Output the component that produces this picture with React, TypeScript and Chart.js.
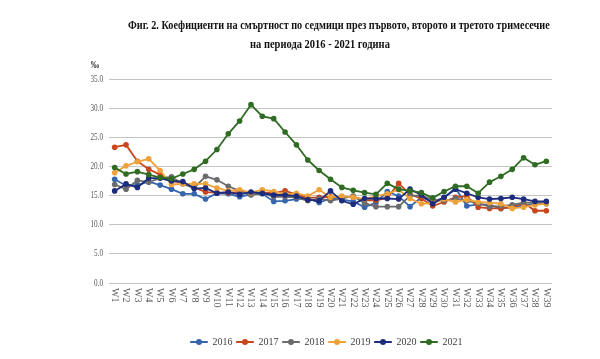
import React, { useEffect, useLayoutEffect, useRef } from "react";
import { Chart, registerables } from "chart.js";

Chart.register(...registerables);

const titleLine1 = "Фиг. 2. Коефициенти на смъртност по седмици през първото, второто и третото тримесечие";
const titleLine2 = "на периода 2016 - 2021 година";
const unitLabel = "‰";

const weeks = [
  "W1", "W2", "W3", "W4", "W5", "W6", "W7", "W8", "W9", "W10",
  "W11", "W12", "W13", "W14", "W15", "W16", "W17", "W18", "W19", "W20",
  "W21", "W22", "W23", "W24", "W25", "W26", "W27", "W28", "W29", "W30",
  "W31", "W32", "W33", "W34", "W35", "W36", "W37", "W38", "W39",
];

const years = ["2016", "2017", "2018", "2019", "2020", "2021"];

const v2016 = [
  17.8, 16.7, 16.8, 17.4, 16.8, 16.1, 15.3, 15.3, 14.4, 15.4, 15.3, 14.8, 15.2,
  15.3, 14.0, 14.1, 14.4, 14.5, 13.8, 14.5, 14.3, 14.0, 13.0, 13.8, 15.7, 14.9, 13.1, 14.7,
  14.0, 14.6, 16.3, 13.2, 13.5, 13.4, 12.8, 13.0, 13.3, 13.6, 13.6,
];
const v2017 = [
  23.3, 23.7, 20.9, 19.5, 18.6, 17.5, 17.2, 16.4, 15.6, 15.5, 15.5, 15.6, 15.4,
  15.5, 15.4, 15.8, 15.2, 14.6, 14.7, 14.8, 14.7, 14.8, 14.2, 14.2, 14.6, 17.1, 15.2, 14.5,
  13.2, 13.9, 14.7, 14.9, 13.0, 12.8, 12.8, 13.0, 13.8, 12.4, 12.4,
];
const v2018 = [
  16.9, 16.1, 17.6, 17.3, 18.0, 18.2, 17.0, 16.3, 18.3, 17.7, 16.6, 15.8, 15.1,
  15.5, 14.8, 14.8, 14.7, 14.1, 14.5, 14.1, 14.5, 14.9, 13.7, 13.1, 13.1, 13.1, 15.0, 15.0,
  14.3, 14.1, 14.5, 14.1, 13.7, 13.1, 13.2, 13.4, 13.8, 13.8, 13.8,
];
const v2019 = [
  18.9, 20.1, 20.8, 21.3, 19.3, 16.9, 17.0, 17.0, 17.0, 16.3, 15.8, 16.0, 15.5,
  16.0, 15.7, 15.2, 15.4, 14.9, 16.0, 14.7, 14.9, 14.7, 14.4, 14.9, 15.3, 16.0, 14.5, 13.6,
  13.7, 14.4, 13.9, 14.3, 13.9, 13.8, 13.6, 12.8, 13.0, 13.4, 13.6,
];
const v2020 = [
  15.8, 17.0, 16.4, 18.0, 18.0, 17.5, 17.4, 16.2, 16.3, 15.4, 15.6, 15.2, 15.6,
  15.4, 15.1, 15.1, 14.9, 14.3, 14.1, 15.8, 14.1, 13.5, 14.5, 14.5, 14.5, 14.4, 16.1, 15.1,
  13.6, 14.7, 16.1, 15.4, 14.7, 14.4, 14.5, 14.7, 14.4, 14.0, 14.0,
];
const v2021 = [
  19.8, 18.7, 19.1, 18.6, 18.1, 17.9, 18.7, 19.5, 20.9, 22.9, 25.6, 27.8, 30.6,
  28.6, 28.2, 25.9, 23.7, 21.1, 19.3, 17.8, 16.4, 15.9, 15.5, 15.2, 17.1, 16.1, 15.8, 15.5,
  14.6, 15.7, 16.6, 16.6, 15.4, 17.3, 18.3, 19.5, 21.5, 20.3, 20.9,
];

const seriesValues = [v2016, v2017, v2018, v2019, v2020, v2021];
const seriesColors = ["#3565ad", "#c9461d", "#6b6b6b", "#f0a23a", "#1c2b7c", "#2f6b23"];

const yMin = 0;
const yMax = 35;
const yStep = 5;

const textPlugin = {
  id: "customText",
  afterDraw(chart: any) {
    const ctx = chart.ctx;
    const xs = chart.scales.x;
    const ys = chart.scales.y;
    const area = chart.chartArea;
    ctx.save();
    ctx.fillStyle = "#595959";
    ctx.font = '10px "Liberation Serif", serif';
    ctx.textBaseline = "middle";
    ctx.textAlign = "left";
    xs.ticks.forEach((t: any, i: number) => {
      const px = xs.getPixelForTick(i);
      ctx.save();
      ctx.translate(px, area.bottom + 5);
      ctx.rotate(Math.PI / 2);
      ctx.fillText(String(xs.getLabelForValue(t.value)), 0, 0);
      ctx.restore();
    });
    ctx.textAlign = "right";
    ys.ticks.forEach((t: any) => {
      const py = ys.getPixelForValue(t.value);
      ctx.save();
      ctx.translate(103, py);
      ctx.scale(0.72, 1);
      ctx.fillText(Number(t.value).toFixed(1), 0, 0);
      ctx.restore();
    });
    ctx.textAlign = "center";
    ctx.fillStyle = "#404040";
    ctx.font = 'bold 10px "Liberation Serif", serif';
    ctx.save();
    ctx.translate(95, 65);
    ctx.scale(0.85, 1);
    ctx.fillText(unitLabel, 0, 0);
    ctx.restore();
    const legend = chart.legend;
    if (legend && legend.legendHitBoxes) {
      const bw = legend.options.labels.boxWidth;
      legend.legendHitBoxes.forEach((hb: any, i: number) => {
        const item = legend.legendItems[i];
        ctx.beginPath();
        ctx.fillStyle = item.strokeStyle;
        ctx.arc(hb.left + bw / 2, hb.top + hb.height / 2, 3, 0, Math.PI * 2);
        ctx.fill();
      });
    }
    ctx.restore();
  },
};

export default function App() {
  const canvasRef = useRef<HTMLCanvasElement | null>(null);
  const t1Ref = useRef<HTMLSpanElement | null>(null);
  const t2Ref = useRef<HTMLSpanElement | null>(null);

  useLayoutEffect(() => {
    const fit = (el: HTMLSpanElement | null, target: number) => {
      if (!el) return;
      const w = el.offsetWidth;
      if (w > 0) el.style.transform = `scaleX(${target / w})`;
    };
    fit(t1Ref.current, 422);
    fit(t2Ref.current, 140);
  }, []);

  useEffect(() => {
    if (!canvasRef.current) return;
    const datasets = years.map((y, i) => ({
      label: y,
      data: seriesValues[i],
      borderColor: seriesColors[i],
      backgroundColor: seriesColors[i],
      pointBackgroundColor: seriesColors[i],
      pointBorderColor: seriesColors[i],
      borderWidth: 1.8,
      pointRadius: 2.8,
      pointBorderWidth: 0,
      tension: 0,
      order: years.length - 1 - i,
    }));
    const chart = new Chart(canvasRef.current, {
      type: "line",
      data: { labels: weeks, datasets },
      options: {
        animation: false,
        responsive: false,
        layout: { padding: { top: 79, left: 101, right: 48, bottom: 2 } },
        plugins: {
          title: { display: false },
          tooltip: { enabled: false },
          legend: {
            display: true,
            position: "bottom",
            labels: {
              boxWidth: 17,
              boxHeight: 1,
              padding: 4,
              color: "#404040",
              font: { family: '"Liberation Serif", serif', size: 10 },
              sort: (a: any, b: any) => a.datasetIndex - b.datasetIndex,
              generateLabels: (c: any) =>
                (Chart.defaults.plugins.legend.labels as any)
                  .generateLabels(c)
                  .map((l: any) => ({ ...l, lineWidth: 1 })),
            },
          },
        },
        scales: {
          x: {
            type: "category",
            offset: true,
            grid: { display: false },
            border: { display: false },
            ticks: { display: false, autoSkip: false },
            afterFit: (s: any) => {
              s.height = 50;
            },
          },
          y: {
            min: yMin,
            max: yMax,
            ticks: { display: false, stepSize: yStep },
            grid: { color: "#c4c4c4", lineWidth: 1, drawTicks: false },
            border: { display: false },
            afterFit: (s: any) => {
              s.width = 8;
            },
          },
        },
      },
      plugins: [textPlugin],
    });
    return () => chart.destroy();
  }, []);

  const lineStyle: React.CSSProperties = {
    position: "absolute",
    whiteSpace: "nowrap",
    fontFamily: '"Liberation Serif", serif',
    fontWeight: "bold",
    fontSize: "12.5px",
    lineHeight: "12px",
    color: "#111",
    transformOrigin: "left top",
  };

  return (
    <div style={{ position: "absolute", left: 0, top: 0, width: 600, height: 359, background: "#fff" }}>
      <canvas ref={canvasRef} width={600} height={359} style={{ position: "absolute", left: 0, top: 0 }} />
      <span ref={t1Ref} style={{ ...lineStyle, left: 128, top: 18.5 }}>{titleLine1}</span>
      <span ref={t2Ref} style={{ ...lineStyle, left: 250, top: 38 }}>{titleLine2}</span>
    </div>
  );
}
